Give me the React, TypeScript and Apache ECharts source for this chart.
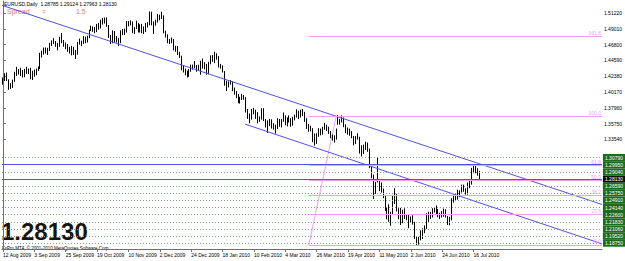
import React, { useEffect, useRef } from "react";
import * as echarts from "echarts";

// x-axis tick labels (one every 16 daily bars)
const tickLabels = ["12 Aug 2009", "3 Sep 2009", "25 Sep 2009", "19 Oct 2009", "10 Nov 2009", "2 Dec 2009", "24 Dec 2009", "18 Jan 2010", "10 Feb 2010", "4 Mar 2010", "26 Mar 2010", "19 Apr 2010", "11 May 2010", "2 Jun 2010", "24 Jun 2010", "16 Jul 2010"];
const priceTicks = [1.3354, 1.3575, 1.3796, 1.4017, 1.4238, 1.4459, 1.468, 1.4901, 1.5122];

const opens = [
  1.4150, 1.4190, 1.4250, 1.4185, 1.4085, 1.4125, 1.4175, 1.4290, 1.4330, 1.4305,
  1.4320, 1.4235, 1.4325, 1.4295, 1.4335, 1.4215, 1.4290, 1.4300, 1.4330, 1.4350,
  1.4535, 1.4570, 1.4620, 1.4575, 1.4615, 1.4685, 1.4715, 1.4720, 1.4700, 1.4670,
  1.4780, 1.4720, 1.4685, 1.4675, 1.4620, 1.4585, 1.4635, 1.4550, 1.4560, 1.4710,
  1.4725, 1.4705, 1.4785, 1.4720, 1.4795, 1.4880, 1.4910, 1.4920, 1.4900, 1.4960,
  1.4920, 1.5020, 1.5035, 1.5010, 1.4945, 1.4790, 1.4710, 1.4860, 1.4720, 1.4760,
  1.4710, 1.4865, 1.4860, 1.4855, 1.4995, 1.4970, 1.5000, 1.4860, 1.4910, 1.4975,
  1.4870, 1.4950, 1.4870, 1.4860, 1.4960, 1.4965, 1.5125, 1.4990, 1.4965, 1.5005,
  1.5085, 1.5060, 1.5060, 1.4860, 1.4810, 1.4710, 1.4730, 1.4720, 1.4615, 1.4650,
  1.4550, 1.4520, 1.4335, 1.4340, 1.4280, 1.4250, 1.4320, 1.4380, 1.4370, 1.4390,
  1.4340, 1.4320, 1.4410, 1.4370, 1.4400, 1.4310, 1.4410, 1.4510, 1.4520, 1.4540,
  1.4500, 1.4380, 1.4380, 1.4300, 1.4110, 1.4100, 1.4140, 1.4150, 1.4060, 1.4000,
  1.3970, 1.3865, 1.3930, 1.3960, 1.3940, 1.3740, 1.3670, 1.3640, 1.3750, 1.3750,
  1.3720, 1.3630, 1.3640, 1.3780, 1.3620, 1.3525, 1.3610, 1.3590, 1.3520, 1.3530,
  1.3510, 1.3630, 1.3560, 1.3620, 1.3680, 1.3610, 1.3630, 1.3630, 1.3560, 1.3640,
  1.3680, 1.3750, 1.3670, 1.3760, 1.3730, 1.3620, 1.3530, 1.3530, 1.3500, 1.3320,
  1.3300, 1.3410, 1.3500, 1.3430, 1.3510, 1.3550, 1.3500, 1.3450, 1.3380, 1.3360,
  1.3360, 1.3680, 1.3580, 1.3610, 1.3640, 1.3540, 1.3500, 1.3460, 1.3440, 1.3390,
  1.3300, 1.3370, 1.3380, 1.3180, 1.3240, 1.3230, 1.3300, 1.3210, 1.2980, 1.2840,
  1.2620, 1.2950, 1.2780, 1.2690, 1.2640, 1.2550, 1.2360, 1.2380, 1.2220, 1.2320,
  1.2510, 1.2570, 1.2360, 1.2370, 1.2200, 1.2360, 1.2270, 1.2280, 1.2220, 1.2230,
  1.2180, 1.1970, 1.1920, 1.1970, 1.1990, 1.2100, 1.2110, 1.2290, 1.2330, 1.2290,
  1.2380, 1.2390, 1.2370, 1.2300, 1.2300, 1.2290, 1.2360, 1.2270, 1.2170, 1.2230,
  1.2520, 1.2560, 1.2540, 1.2610, 1.2630, 1.2700, 1.2640, 1.2610, 1.2740, 1.2740,
  1.2930, 1.2930, 1.2940, 1.28785,
];
const highs = [
  1.4220, 1.4280, 1.4290, 1.4195, 1.4140, 1.4190, 1.4300, 1.4370, 1.4340, 1.4355,
  1.4325, 1.4340, 1.4370, 1.4345, 1.4355, 1.4315, 1.4330, 1.4345, 1.4375, 1.4565,
  1.4595, 1.4640, 1.4640, 1.4635, 1.4705, 1.4740, 1.4770, 1.4730, 1.4705, 1.4790,
  1.4843, 1.4745, 1.4710, 1.4690, 1.4650, 1.4665, 1.4650, 1.4605, 1.4720, 1.4765,
  1.4735, 1.4800, 1.4790, 1.4805, 1.4890, 1.4945, 1.4935, 1.4925, 1.4970, 1.4985,
  1.5030, 1.5055, 1.5060, 1.5061, 1.4955, 1.4815, 1.4880, 1.4870, 1.4800, 1.4775,
  1.4880, 1.4900, 1.4905, 1.5010, 1.5010, 1.5020, 1.5005, 1.4925, 1.5015, 1.4985,
  1.4965, 1.4970, 1.4935, 1.4985, 1.4995, 1.5144, 1.5140, 1.5005, 1.5030, 1.5110,
  1.5100, 1.5140, 1.5090, 1.4875, 1.4825, 1.4760, 1.4780, 1.4760, 1.4665, 1.4660,
  1.4580, 1.4525, 1.4385, 1.4345, 1.4315, 1.4340, 1.4400, 1.4400, 1.4450, 1.4395,
  1.4400, 1.4455, 1.4485, 1.4435, 1.4410, 1.4440, 1.4530, 1.4535, 1.4580, 1.4560,
  1.4520, 1.4410, 1.4390, 1.4310, 1.4175, 1.4165, 1.4185, 1.4165, 1.4080, 1.4030,
  1.3990, 1.3950, 1.3990, 1.3975, 1.3945, 1.3780, 1.3715, 1.3780, 1.3795, 1.3770,
  1.3735, 1.3675, 1.3790, 1.3790, 1.3640, 1.3620, 1.3640, 1.3635, 1.3580, 1.3560,
  1.3650, 1.3640, 1.3640, 1.3730, 1.3690, 1.3660, 1.3690, 1.3650, 1.3670, 1.3700,
  1.3775, 1.3755, 1.3770, 1.3780, 1.3740, 1.3650, 1.3570, 1.3545, 1.3510, 1.3435,
  1.3440, 1.3510, 1.3505, 1.3530, 1.3585, 1.3560, 1.3530, 1.3470, 1.3420, 1.3410,
  1.3505, 1.3694, 1.3640, 1.3690, 1.3660, 1.3565, 1.3520, 1.3505, 1.3470, 1.3400,
  1.3400, 1.3440, 1.3390, 1.3270, 1.3280, 1.3320, 1.3310, 1.3225, 1.3000, 1.2860,
  1.2760, 1.3094, 1.2800, 1.2750, 1.2665, 1.2570, 1.2400, 1.2445, 1.2340, 1.2560,
  1.2670, 1.2590, 1.2390, 1.2395, 1.2370, 1.2390, 1.2300, 1.2310, 1.2275, 1.2290,
  1.2200, 1.1990, 1.1990, 1.2080, 1.2110, 1.2150, 1.2320, 1.2340, 1.2340, 1.2390,
  1.2400, 1.2429, 1.2380, 1.2325, 1.2350, 1.2385, 1.2375, 1.2280, 1.2270, 1.2530,
  1.2580, 1.2580, 1.2650, 1.2640, 1.2720, 1.2720, 1.2670, 1.2750, 1.2770, 1.2955,
  1.2985, 1.2980, 1.2950, 1.29124,
];
const lows = [
  1.4120, 1.4170, 1.4170, 1.4047, 1.4060, 1.4075, 1.4160, 1.4240, 1.4260, 1.4240,
  1.4220, 1.4225, 1.4270, 1.4270, 1.4195, 1.4185, 1.4230, 1.4250, 1.4310, 1.4340,
  1.4500, 1.4540, 1.4555, 1.4535, 1.4590, 1.4660, 1.4690, 1.4650, 1.4600, 1.4650,
  1.4700, 1.4650, 1.4615, 1.4580, 1.4555, 1.4530, 1.4535, 1.4480, 1.4540, 1.4680,
  1.4660, 1.4690, 1.4700, 1.4710, 1.4770, 1.4870, 1.4860, 1.4840, 1.4855, 1.4890,
  1.4905, 1.4960, 1.4975, 1.4930, 1.4775, 1.4690, 1.4700, 1.4705, 1.4710, 1.4660,
  1.4700, 1.4815, 1.4815, 1.4850, 1.4935, 1.4950, 1.4840, 1.4830, 1.4900, 1.4850,
  1.4850, 1.4840, 1.4830, 1.4855, 1.4920, 1.4950, 1.4950, 1.4830, 1.4945, 1.4990,
  1.5020, 1.5040, 1.4840, 1.4780, 1.4700, 1.4690, 1.4700, 1.4600, 1.4580, 1.4535,
  1.4495, 1.4320, 1.4290, 1.4250, 1.4220, 1.4230, 1.4300, 1.4330, 1.4350, 1.4300,
  1.4315, 1.4260, 1.4345, 1.4335, 1.4260, 1.4265, 1.4405, 1.4440, 1.4420, 1.4470,
  1.4360, 1.4345, 1.4290, 1.4105, 1.4030, 1.4080, 1.4120, 1.4030, 1.3980, 1.3930,
  1.3860, 1.3855, 1.3905, 1.3910, 1.3730, 1.3640, 1.3580, 1.3630, 1.3705, 1.3640,
  1.3580, 1.3600, 1.3630, 1.3610, 1.3520, 1.3445, 1.3540, 1.3505, 1.3490, 1.3435,
  1.3500, 1.3530, 1.3520, 1.3600, 1.3550, 1.3535, 1.3590, 1.3530, 1.3545, 1.3620,
  1.3660, 1.3640, 1.3660, 1.3680, 1.3600, 1.3500, 1.3460, 1.3465, 1.3315, 1.3267,
  1.3290, 1.3390, 1.3410, 1.3420, 1.3490, 1.3470, 1.3430, 1.3370, 1.3335, 1.3310,
  1.3350, 1.3560, 1.3560, 1.3590, 1.3525, 1.3440, 1.3420, 1.3405, 1.3370, 1.3270,
  1.3290, 1.3350, 1.3155, 1.3115, 1.3150, 1.3205, 1.3180, 1.2950, 1.2810, 1.2520,
  1.2590, 1.2750, 1.2630, 1.2610, 1.2530, 1.2350, 1.2235, 1.2200, 1.2145, 1.2300,
  1.2450, 1.2345, 1.2235, 1.2155, 1.2180, 1.2240, 1.2220, 1.2110, 1.2190, 1.2160,
  1.1960, 1.1876, 1.1880, 1.1940, 1.1960, 1.2040, 1.2100, 1.2200, 1.2240, 1.2260,
  1.2330, 1.2305, 1.2265, 1.2240, 1.2260, 1.2270, 1.2260, 1.2155, 1.2150, 1.2220,
  1.2470, 1.2500, 1.2510, 1.2545, 1.2610, 1.2620, 1.2580, 1.2580, 1.2670, 1.2720,
  1.2880, 1.2880, 1.2845, 1.27963,
];
const closes = [
  1.4190, 1.4250, 1.4185, 1.4085, 1.4125, 1.4175, 1.4290, 1.4330, 1.4305, 1.4320,
  1.4235, 1.4325, 1.4295, 1.4335, 1.4215, 1.4290, 1.4300, 1.4330, 1.4350, 1.4535,
  1.4570, 1.4620, 1.4575, 1.4615, 1.4685, 1.4715, 1.4720, 1.4700, 1.4670, 1.4780,
  1.4720, 1.4685, 1.4675, 1.4620, 1.4585, 1.4635, 1.4550, 1.4560, 1.4710, 1.4725,
  1.4705, 1.4785, 1.4720, 1.4795, 1.4880, 1.4910, 1.4920, 1.4900, 1.4960, 1.4920,
  1.5020, 1.5035, 1.5010, 1.4945, 1.4790, 1.4710, 1.4860, 1.4720, 1.4760, 1.4710,
  1.4865, 1.4860, 1.4855, 1.4995, 1.4970, 1.5000, 1.4860, 1.4910, 1.4975, 1.4870,
  1.4950, 1.4870, 1.4860, 1.4960, 1.4965, 1.5125, 1.4990, 1.4965, 1.5005, 1.5085,
  1.5060, 1.5060, 1.4860, 1.4810, 1.4710, 1.4730, 1.4720, 1.4615, 1.4650, 1.4550,
  1.4520, 1.4335, 1.4340, 1.4280, 1.4250, 1.4320, 1.4380, 1.4370, 1.4390, 1.4340,
  1.4320, 1.4410, 1.4370, 1.4400, 1.4310, 1.4410, 1.4510, 1.4520, 1.4540, 1.4500,
  1.4380, 1.4380, 1.4300, 1.4110, 1.4100, 1.4140, 1.4150, 1.4060, 1.4000, 1.3970,
  1.3865, 1.3930, 1.3960, 1.3940, 1.3740, 1.3670, 1.3640, 1.3750, 1.3750, 1.3720,
  1.3630, 1.3640, 1.3780, 1.3620, 1.3525, 1.3610, 1.3590, 1.3520, 1.3530, 1.3510,
  1.3630, 1.3560, 1.3620, 1.3680, 1.3610, 1.3630, 1.3630, 1.3560, 1.3640, 1.3680,
  1.3750, 1.3670, 1.3760, 1.3730, 1.3620, 1.3530, 1.3530, 1.3500, 1.3320, 1.3300,
  1.3410, 1.3500, 1.3430, 1.3510, 1.3550, 1.3500, 1.3450, 1.3380, 1.3360, 1.3360,
  1.3490, 1.3580, 1.3610, 1.3640, 1.3540, 1.3500, 1.3460, 1.3440, 1.3390, 1.3300,
  1.3370, 1.3380, 1.3180, 1.3240, 1.3230, 1.3300, 1.3210, 1.2980, 1.2840, 1.2620,
  1.2750, 1.2780, 1.2690, 1.2640, 1.2550, 1.2360, 1.2380, 1.2220, 1.2320, 1.2510,
  1.2570, 1.2360, 1.2370, 1.2200, 1.2360, 1.2270, 1.2280, 1.2220, 1.2230, 1.2180,
  1.1970, 1.1920, 1.1970, 1.1990, 1.2100, 1.2110, 1.2290, 1.2330, 1.2290, 1.2380,
  1.2390, 1.2370, 1.2300, 1.2300, 1.2290, 1.2360, 1.2270, 1.2170, 1.2230, 1.2520,
  1.2560, 1.2540, 1.2610, 1.2630, 1.2700, 1.2640, 1.2610, 1.2740, 1.2740, 1.2930,
  1.2930, 1.2940, 1.2880, 1.28130,
];

// drawn objects (bar index, price)
const upperChannel = [[-0.5, 1.5230], [305.5, 1.2443]];
const lowerChannel = [[123.5, 1.3567], [305.5, 1.1891]];
const fibAnchors = [[156, 1.1876], [170, 1.3680]];
const fibLevels = [0, 23.6, 38.2, 50, 61.8, 100, 161.8];
const dottedLevels = [1.3079, 1.2995, 1.2904, 1.2743, 1.2659, 1.2575, 1.2491, 1.2414, 1.2337, 1.226, 1.2183, 1.2106, 1.2029, 1.1952, 1.1875];
const blueLevels = [1.3004];

const N_SLOTS = 306;
const FONT = "Liberation Sans";
const BLUE = "#5050ee";
const PINK = "#f0a0f0";

export default function App() {
  const ref = useRef<HTMLDivElement>(null);
  useEffect(() => {
    if (!ref.current) return;
    const chart = echarts.init(ref.current, undefined, { renderer: "svg" });
    const categories = Array.from({ length: N_SLOTS }, (_, i) => String(i));
    const candleData = opens.map((o, i) => [o, closes[i], lows[i], highs[i]]);
    const last = closes.length - 1;
    const bid = closes[last];
    const lastTickIdx = (tickLabels.length - 1) * 16;
    const showIdx = (idx: number) => idx % 16 === 0 && idx <= lastTickIdx;

    const levelMarks: any[] = dottedLevels.map((p) => ({
      yAxis: p,
      lineStyle: { color: "#7fa07f", type: [1, 2], width: 1 },
      label: {
        show: true, position: "end", distance: 1, formatter: p.toFixed(5),
        backgroundColor: "#1e6a1e", color: "#ffffff", fontSize: 5, fontFamily: FONT,
        padding: [1, 2, 1, 2],
      },
    }));
    blueLevels.forEach((p) => levelMarks.push({
      yAxis: p, lineStyle: { color: BLUE, type: "solid", width: 1 }, label: { show: false },
    }));
    levelMarks.push({
      yAxis: bid,
      lineStyle: { color: BLUE, type: "solid", width: 1 },
      label: {
        show: true, position: "end", distance: 1, formatter: bid.toFixed(5),
        backgroundColor: "#101010", color: "#ffffff", fontSize: 5, fontFamily: FONT,
        padding: [1, 2, 1, 2],
      },
    });

    const fLow = fibAnchors[0][1];
    const fHigh = fibAnchors[1][1];
    const fibMarks = fibLevels.map((lv) => {
      const p = fLow + ((fHigh - fLow) * lv) / 100;
      return [
        { coord: [fibAnchors[0][0], p] },
        {
          coord: [305.5, p],
          label: { show: true, position: "insideEndTop", formatter: lv.toFixed(1), color: PINK, fontSize: 5, fontFamily: FONT, distance: 1 },
        },
      ];
    });

    const headerText = `EURUSD,Daily  ${opens[last].toFixed(5)} ${highs[last].toFixed(5)} ${lows[last].toFixed(5)} ${closes[last].toFixed(5)}`;

    chart.setOption({
      animation: false,
      backgroundColor: "#ffffff",
      grid: { left: 1, top: 1, right: 17, bottom: 12, containLabel: false },
      xAxis: [
        {
          type: "category",
          data: categories,
          boundaryGap: true,
          axisLine: { show: true, lineStyle: { color: "#707070", width: 1 } },
          axisTick: { show: true, interval: (idx: number) => showIdx(idx), alignWithLabel: true, length: 3, lineStyle: { color: "#707070" } },
          axisLabel: {
            interval: (idx: number) => showIdx(idx),
            formatter: (_v: string, idx: number) => (showIdx(idx) ? tickLabels[idx / 16] : ""),
            fontSize: 5, fontFamily: FONT, color: "#000", align: "left", margin: 3,
          },
          splitLine: { show: false },
        },
        { type: "value", min: -0.5, max: N_SLOTS - 0.5, show: false },
      ],
      yAxis: {
        type: "value",
        position: "right",
        min: 1.1819,
        max: 1.5291,
        axisLine: { show: true, lineStyle: { color: "#707070", width: 1 } },
        axisTick: { show: true, customValues: priceTicks, length: 3, lineStyle: { color: "#707070" } },
        axisLabel: { customValues: priceTicks, formatter: (v: number) => v.toFixed(5), fontSize: 5, fontFamily: FONT, color: "#000", margin: 2 },
        splitLine: { show: false },
      },
      series: [
        {
          type: "candlestick",
          xAxisIndex: 0,
          yAxisIndex: 0,
          data: candleData,
          barWidth: "60%",
          clip: false,
          itemStyle: { color: "#000", color0: "#000", borderColor: "#000", borderColor0: "#000", borderWidth: 1 },
          markLine: { symbol: "none", silent: true, animation: false, data: levelMarks },
          z: 3,
        },
        {
          type: "line", xAxisIndex: 1, yAxisIndex: 0, data: upperChannel, showSymbol: false, symbol: "none", clip: false,
          lineStyle: { color: BLUE, width: 1 }, silent: true, z: 4,
        },
        {
          type: "line", xAxisIndex: 1, yAxisIndex: 0, data: lowerChannel, showSymbol: false, symbol: "none", clip: false,
          lineStyle: { color: BLUE, width: 1 }, silent: true, z: 4,
        },
        {
          type: "line", xAxisIndex: 1, yAxisIndex: 0, data: fibAnchors, showSymbol: false, symbol: "none", clip: false,
          lineStyle: { color: PINK, width: 1 }, silent: true, z: 2,
          markLine: { symbol: "none", silent: true, animation: false, lineStyle: { color: PINK, type: "solid", width: 1 }, label: { show: false }, data: fibMarks },
        },
      ],
      graphic: [
        { type: "text", left: 4, top: 1, style: { text: headerText, fontSize: 5, fontFamily: FONT, fill: "#000" } },
        { type: "text", left: 7, top: 8, style: { text: "Spread", fontSize: 7, fontFamily: FONT, fill: "#e07a7a" } },
        { type: "text", left: 42, top: 8, style: { text: "=", fontSize: 7, fontFamily: FONT, fill: "#e07a7a" } },
        { type: "text", left: 76, top: 8, style: { text: "1.5", fontSize: 7, fontFamily: FONT, fill: "#e07a7a" } },
        { type: "text", left: 1, top: 219.5, style: { text: bid.toFixed(5), fontSize: 24, lineHeight: 18, fontWeight: "bold", fontFamily: FONT, fill: "#181410" } },
        { type: "text", left: 2, top: 245.5, style: { text: "FxPro MT4, © 2001-2010 MetaQuotes Software Corp.", fontSize: 4.5, lineHeight: 5, fontFamily: FONT, fill: "#000" } },
      ],
    });
    return () => chart.dispose();
  }, []);
  return <div ref={ref} style={{ position: "absolute", left: 0, top: 0, width: 625, height: 261, background: "#fff" }} />;
}
